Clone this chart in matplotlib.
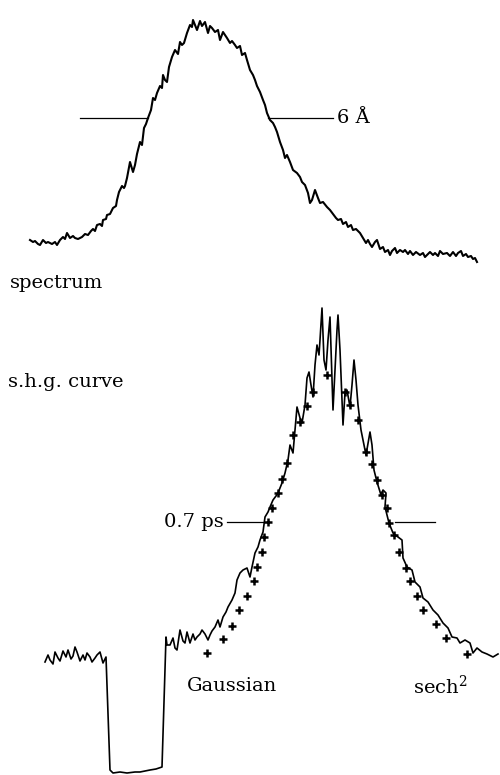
import matplotlib
matplotlib.use("Agg")
import matplotlib.pyplot as plt

plt.rcParams['font.family'] = ['DejaVu Serif']
plt.rcParams['mathtext.fontset'] = 'dejavuserif'

# ---- spectrum trace (x, y in picture units, y downward) ----
spec_x = [30, 33, 35, 38, 40, 43, 46, 48, 52, 55, 57, 60, 63, 65, 67, 70, 73, 75, 78, 82, 85,
          88, 91, 93, 95, 97, 100, 102, 103, 106, 107, 110, 112, 113, 116, 117, 119, 122, 124, 125, 127,
          130, 133, 135, 137, 140, 142, 144, 146, 148, 151, 153, 155, 157, 160, 162, 163, 165, 167, 169,
          172, 175, 178, 180, 182, 184, 187, 190, 192, 193, 195, 197, 200, 202, 205, 208, 210, 212, 215,
          218, 220, 223, 225, 227, 230, 232, 235, 237, 240, 242, 245, 247, 250, 253, 255, 257, 260, 263,
          265, 267, 270, 273, 275, 277, 280, 283, 285, 287, 290, 293, 297, 300, 302, 305, 308, 310, 312,
          315, 318, 320, 323, 327, 330, 333, 336, 338, 341, 343, 346, 348, 351, 353, 356, 360, 363, 366,
          368, 370, 372, 375, 377, 380, 383, 385, 388, 390, 392, 395, 397, 400, 403, 405, 408, 410, 413,
          416, 420, 423, 425, 428, 430, 433, 435, 438, 440, 443, 447, 450, 453, 456, 458, 461, 463, 466,
          468, 471, 473, 475, 477]
spec_y = [240, 242, 241, 244, 245, 240, 243, 242, 244, 242, 245, 240, 237, 239, 233, 238, 236, 238, 239, 237, 234,
          235, 231, 229, 231, 225, 224, 226, 220, 219, 215, 214, 210, 208, 206, 200, 192, 186, 188, 186, 178,
          162, 172, 165, 154, 142, 145, 128, 124, 118, 110, 98, 100, 93, 86, 88, 75, 80, 82, 67,
          57, 50, 54, 42, 45, 43, 33, 25, 27, 20, 25, 30, 21, 26, 22, 33, 26, 28, 32,
          30, 40, 32, 35, 38, 43, 41, 45, 48, 46, 55, 53, 60, 70, 75, 80, 86, 92, 100,
          105, 113, 120, 123, 127, 132, 142, 150, 158, 155, 162, 170, 173, 177, 182, 185, 193, 203, 200,
          190, 198, 203, 202, 207, 210, 214, 218, 220, 219, 224, 222, 227, 225, 230, 229, 233, 238, 243,
          240, 244, 247, 242, 240, 249, 247, 252, 250, 255, 251, 248, 253, 250, 252, 250, 254, 251, 255,
          252, 255, 253, 257, 254, 252, 255, 253, 256, 251, 254, 253, 256, 252, 256, 253, 251, 256, 254,
          257, 256, 259, 258, 262]

# ---- s.h.g. curve trace ----
shg_x = [45, 48, 50, 53, 55, 58, 60, 63, 66, 68,
         71, 73, 75, 77, 80, 83, 85, 87, 90, 92,
         95, 97, 100, 103, 106,
         110, 113, 120, 127, 135, 140, 145, 150, 156, 162,
         166, 167, 170, 173, 175, 177, 180, 183, 185, 187,
         190, 193, 195, 197, 200, 202, 205, 208, 210, 212,
         215, 218, 220, 223, 226, 228, 232, 235, 237, 240,
         243, 247, 250, 252, 255, 258, 260, 263, 265, 268,
         270, 273, 276, 278, 282, 285, 288, 290, 293, 295,
         297, 300, 302, 305, 307, 309, 311, 313, 315, 317,
         319, 320, 322, 324, 326, 328, 330, 332, 333, 335,
         337, 338, 340, 342, 343, 345, 347, 350, 352, 354,
         356, 358, 361, 363, 366, 370, 372, 374, 377, 381,
         383, 386, 385, 389, 393, 398, 402, 403, 407, 412,
         415, 420, 423, 428, 433, 438, 443, 448, 452, 457,
         460, 465, 470, 473, 477, 482, 487, 493, 498]
shg_y = [662, 655, 660, 664, 652, 658, 661, 651, 657, 650,
         659, 656, 647, 652, 661, 655, 660, 653, 657, 662,
         658, 655, 652, 663, 657,
         770, 773, 772, 773, 772, 772, 771, 770, 769, 767,
         637, 645, 645, 638, 648, 650, 630, 641, 643, 632,
         643, 634, 640, 637, 634, 630, 634, 640, 635, 631,
         627, 620, 627, 617, 612, 607, 600, 593, 580, 573,
         570, 568, 577, 567, 553, 547, 540, 532, 517, 512,
         507, 500, 496, 493, 483, 473, 460, 445, 453, 430,
         407, 418, 423, 405, 378, 372, 385, 397, 365, 345,
         355, 340, 308, 360, 370, 340, 317, 380, 410, 370,
         330, 315, 350, 400, 425, 393, 390, 407, 385, 360,
         380, 405, 430, 440, 455, 432, 445, 470, 482, 495,
         490, 493, 507, 523, 533, 537, 540, 558, 567, 570,
         582, 587, 598, 602, 610, 615, 623, 628, 637, 638,
         643, 640, 643, 653, 648, 652, 654, 657, 654]

# ---- fitted points ----
gauss_x = [207, 223, 232, 239, 247, 254, 257, 262, 264, 268, 272, 278, 282, 287, 293, 300, 307, 313, 327]
gauss_y = [653, 639, 626, 610, 596, 581, 567, 552, 537, 522, 508, 493, 479, 463, 435, 422, 406, 392, 375]
sech_x = [345, 350, 358, 366, 372, 377, 382, 387, 389, 394, 399, 406, 410, 417, 423, 436, 446, 467]
sech_y = [392, 405, 420, 452, 464, 480, 495, 508, 523, 535, 552, 568, 581, 596, 610, 624, 638, 654]

# ---- half-width markers ----
spec_hw_left = [80, 148]
spec_hw_right = [268, 333]
spec_hw_y = 118
shg_hw_left = [227, 268]
shg_hw_right = [395, 435]
shg_hw_y = 522

fig = plt.figure(figsize=(5, 7.75), dpi=100)
ax = fig.add_axes([0, 0, 1, 1])
ax.set_xlim(0, 500)
ax.set_ylim(775, 0)
ax.axis('off')

ax.plot(spec_x, spec_y, color='black', lw=1.5)
ax.plot(shg_x, shg_y, color='black', lw=1.2)
ax.plot(gauss_x, gauss_y, linestyle='none', marker='+', ms=6, mew=1.8, color='black')
ax.plot(sech_x, sech_y, linestyle='none', marker='+', ms=6, mew=1.8, color='black')

ax.plot(spec_hw_left, [spec_hw_y] * 2, color='black', lw=0.9)
ax.plot(spec_hw_right, [spec_hw_y] * 2, color='black', lw=0.9)
ax.plot(shg_hw_left, [shg_hw_y] * 2, color='black', lw=0.9)
ax.plot(shg_hw_right, [shg_hw_y] * 2, color='black', lw=0.9)

fs = 14
ax.text(337, spec_hw_y, '6 Å', fontsize=fs, ha='left', va='center')
ax.text(224, shg_hw_y, '0.7 ps', fontsize=fs, ha='right', va='center')
ax.text(10, 283, 'spectrum', fontsize=fs, ha='left', va='center')
ax.text(8, 382, 's.h.g. curve', fontsize=fs, ha='left', va='center')
ax.text(187, 686, 'Gaussian', fontsize=fs, ha='left', va='center')
ax.text(413, 686, r'sech$^2$', fontsize=fs, ha='left', va='center')

fig.savefig('out.png', dpi=100)
